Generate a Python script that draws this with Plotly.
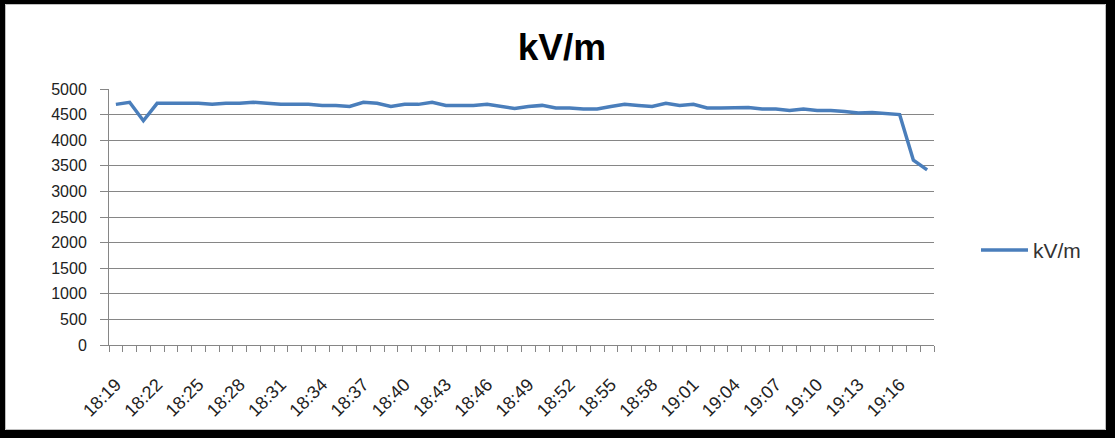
import plotly.graph_objects as go

# Minute-by-minute readings, 18:19 - 19:18
times = [
    "18:19", "18:20", "18:21", "18:22", "18:23", "18:24", "18:25", "18:26", "18:27", "18:28",
    "18:29", "18:30", "18:31", "18:32", "18:33", "18:34", "18:35", "18:36", "18:37", "18:38",
    "18:39", "18:40", "18:41", "18:42", "18:43", "18:44", "18:45", "18:46", "18:47", "18:48",
    "18:49", "18:50", "18:51", "18:52", "18:53", "18:54", "18:55", "18:56", "18:57", "18:58",
    "18:59", "19:00", "19:01", "19:02", "19:03", "19:04", "19:05", "19:06", "19:07", "19:08",
    "19:09", "19:10", "19:11", "19:12", "19:13", "19:14", "19:15", "19:16", "19:17", "19:18",
]
kv_per_m = [
    4700, 4740, 4380, 4720, 4720, 4720, 4720, 4700, 4720, 4720,
    4740, 4720, 4700, 4700, 4700, 4680, 4680, 4660, 4740, 4720,
    4660, 4700, 4700, 4740, 4680, 4680, 4680, 4700, 4660, 4620,
    4660, 4680, 4630, 4630, 4610, 4610, 4660, 4700, 4680, 4660,
    4720, 4680, 4700, 4630, 4630, 4640, 4640, 4610, 4610, 4580,
    4610, 4580, 4580, 4560, 4530, 4540, 4520, 4500, 3610, 3420,
]
y_ticks = list(range(0, 5001, 500))
series_name = "kV/m"

# category slots: one per minute, labels on every third minute
slots = list(range(len(times)))
label_slots = slots[::3]
label_text = times[::3]

W, H = 1115, 438
L, R, T, B = 109, 181, 89, 93
PW, PH = W - L - R, H - T - B
LINE_COLOR = "#4A7EBB"


def px_x(px):
    return (px - L) / PW


def px_y(py):
    return (H - B - py) / PH


fig = go.Figure()
fig.add_trace(go.Scatter(
    x=slots, y=kv_per_m, mode="lines", name=series_name,
    line=dict(color=LINE_COLOR, width=3.5), showlegend=False,
    customdata=times, hovertemplate="%{customdata}: %{y}<extra></extra>",
))

shapes = []
# thick black frame round the chart area
for x0, y0, x1, y1 in [(0, 0, 5, H), (0, 0, W, 4), (1106, 0, W, H), (0, 430, W, H)]:
    shapes.append(dict(type="rect", xref="paper", yref="paper",
                       x0=px_x(x0), x1=px_x(x1), y0=px_y(y0), y1=px_y(y1),
                       fillcolor="black", line=dict(width=0), layer="above"))
shapes.append(dict(type="rect", xref="paper", yref="paper",
                   x0=px_x(5.5), x1=px_x(1105.5), y0=px_y(4.5), y1=px_y(429.5),
                   fillcolor="rgba(0,0,0,0)", line=dict(color="#BFBFBF", width=1),
                   layer="above"))
# legend key: line sample + series name
shapes.append(dict(type="line", xref="paper", yref="paper",
                   x0=px_x(981), x1=px_x(1028), y0=px_y(250), y1=px_y(250),
                   line=dict(color=LINE_COLOR, width=3.5)))

fig.update_layout(
    width=W, height=H,
    margin=dict(l=L, r=R, t=T, b=B),
    paper_bgcolor="white", plot_bgcolor="white",
    font=dict(family="Liberation Sans", size=16, color="#222222"),
    title=dict(text="<b>" + series_name + "</b>", x=562 / W, xref="container",
               xanchor="center", y=1 - 47 / H, yanchor="middle",
               font=dict(family="Liberation Sans", size=37, color="black")),
    showlegend=False,
    annotations=[dict(text=series_name, xref="paper", yref="paper",
                      x=px_x(1031), y=px_y(250), xanchor="left", yanchor="middle",
                      showarrow=False, font=dict(size=21, color="#333333"))],
    xaxis=dict(
        tickmode="array", tickvals=label_slots, ticktext=label_text,
        ticks="", tickangle=-45, ticklabelstandoff=21,
        minor=dict(tick0=-0.5, dtick=1, ticks="outside", ticklen=6,
                   tickcolor="#868686", showgrid=False),
        showline=True, linecolor="#868686", linewidth=1,
        showgrid=False, zeroline=False, range=[-0.5, len(times) - 0.5],
        tickfont=dict(size=18, color="#222222"),
    ),
    yaxis=dict(
        range=[0, 5000], tickmode="array", tickvals=y_ticks,
        ticks="outside", ticklen=8, tickcolor="#868686",
        ticklabelstandoff=10,
        showline=True, linecolor="#868686", linewidth=1,
        showgrid=True, gridcolor="#868686", gridwidth=1, zeroline=False,
        tickfont=dict(size=16, color="#222222"),
    ),
    shapes=shapes,
)

fig.write_html("out.html")
